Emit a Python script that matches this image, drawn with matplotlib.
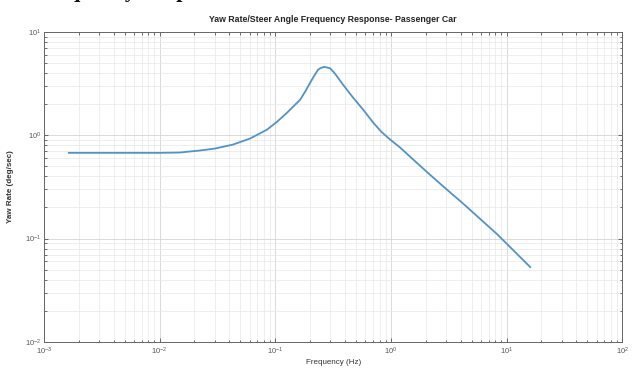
import numpy as np
import matplotlib
matplotlib.use('Agg')
import matplotlib.pyplot as plt
from matplotlib.ticker import LogLocator, NullFormatter

# Yaw rate / steer angle gain vs frequency
freq_hz = [0.00164, 0.00454, 0.0100, 0.0150, 0.0183, 0.0223, 0.0301, 0.0431,
           0.0605, 0.0849, 0.1038, 0.1264, 0.164, 0.181, 0.200, 0.217, 0.234,
           0.244, 0.264, 0.298, 0.329, 0.386, 0.471, 0.575, 0.701, 0.822,
           0.984, 1.20, 1.556, 2.10, 2.83, 4.21, 8.30, 16.0]
yaw_gain = [0.676, 0.676, 0.676, 0.681, 0.697, 0.712, 0.744, 0.813,
            0.930, 1.135, 1.356, 1.655, 2.21, 2.64, 3.22, 3.77, 4.30,
            4.45, 4.60, 4.45, 3.94, 3.08, 2.31, 1.77, 1.33, 1.086,
            0.909, 0.761, 0.583, 0.430, 0.320, 0.218, 0.110, 0.053]

plt.rcParams['font.family'] = ['Liberation Sans', 'DejaVu Sans']

fig = plt.figure(figsize=(6.32, 3.72), dpi=100)
ax = fig.add_axes([0.0696, 0.081, 0.915, 0.833])

ax.loglog(freq_hz, yaw_gain, color='#5393c2', lw=1.3)
ax.set_xlim(1e-3, 1e2)
ax.set_ylim(1e-2, 1e1)

ax.xaxis.set_major_locator(LogLocator(base=10, numticks=10))
ax.yaxis.set_major_locator(LogLocator(base=10, numticks=10))
ax.xaxis.set_minor_locator(LogLocator(base=10, subs=np.arange(2, 10), numticks=20))
ax.yaxis.set_minor_locator(LogLocator(base=10, subs=np.arange(2, 10), numticks=20))
ax.xaxis.set_minor_formatter(NullFormatter())
ax.yaxis.set_minor_formatter(NullFormatter())

ax.grid(True, which='major', color='#d4d4d4', lw=0.6)
ax.grid(True, which='minor', color='#e8e8e8', lw=0.5)
ax.tick_params(which='both', direction='in', top=True, right=True,
               colors='#555555', labelsize=5.5, width=0.6)
ax.tick_params(which='major', length=3)
ax.tick_params(which='minor', length=1.8)
ax.tick_params(axis='x', pad=3)
ax.tick_params(axis='y', pad=2)
for s in ax.spines.values():
    s.set_color('#666666')
    s.set_linewidth(0.7)

ax.set_title('Yaw Rate/Steer Angle Frequency Response- Passenger Car',
             fontsize=6.3, fontweight='bold', color='#222222', pad=7)
ax.set_xlabel('Frequency (Hz)', fontsize=5.8, color='#333333', labelpad=1)
ax.set_ylabel('Yaw Rate (deg/sec)', fontsize=5.8, color='#333333',
              fontweight='bold', labelpad=8)

# heading of the page above, clipped by the top edge
fig.text(0.055, 1.008, 'Frequency Response', fontsize=16, fontweight='bold',
         family='Liberation Serif', va='baseline', ha='left', color='#111111')

fig.savefig('out.png', dpi=100)
